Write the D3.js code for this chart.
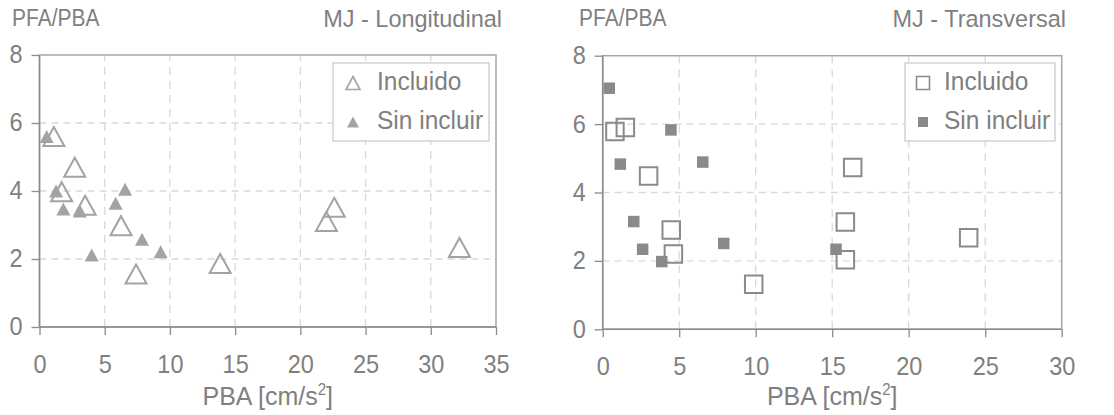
<!DOCTYPE html>
<html><head><meta charset="utf-8">
<script src="https://cdn.jsdelivr.net/npm/d3@7"></script>
<style>
html,body{margin:0;padding:0;background:#fff;}
text{font-family:"Liberation Sans",Arial,sans-serif;fill:#808080;}
</style></head>
<body>
<svg id="c" width="1114" height="415"></svg>
<script>
// ---- data ----
const longIncluidoX = [1.1, 2.7, 1.7, 3.5, 6.25, 7.4, 13.85, 22.6, 22.0, 32.2];
const longIncluidoY = [5.6, 4.7, 3.98, 3.58, 2.98, 1.56, 1.87, 3.52, 3.1, 2.34];
const longSinX = [0.55, 1.27, 1.83, 3.1, 5.84, 6.56, 7.86, 9.29, 4.0];
const longSinY = [5.6, 4.0, 3.47, 3.41, 3.64, 4.05, 2.58, 2.21, 2.12];

const transIncluidoX = [0.8, 1.48, 3.0, 16.34, 4.48, 4.62, 15.86, 15.86, 23.92, 9.87];
const transIncluidoY = [5.78, 5.9, 4.48, 4.73, 2.9, 2.2, 3.14, 2.03, 2.68, 1.32];
const transSinX = [0.43, 4.46, 1.15, 6.54, 2.03, 2.61, 3.86, 7.91, 15.25];
const transSinY = [7.05, 5.83, 4.83, 4.89, 3.15, 2.34, 1.98, 2.51, 2.34];

const yTicks = [0, 2, 4, 6, 8];
const xTicksLong = [0, 5, 10, 15, 20, 25, 30, 35];
const xTicksTrans = [0, 5, 10, 15, 20, 25, 30];
const seriesNames = ["Incluido", "Sin incluir"];
const yTitle = "PFA/PBA";
const titles = ["MJ - Longitudinal", "MJ - Transversal"];

const svg = d3.select("#c");

function tri(w, h){ return `M0,${-h/2}L${w/2},${h/2}L${-w/2},${h/2}Z`; }
function sq(s){ return `M${-s/2},${-s/2}h${s}v${s}h${-s}Z`; }
function stext(g, x, y, size, sy, anchor, str){
  return g.append("text").attr("transform", `translate(${x},${y}) scale(1,${sy})`)
    .attr("font-size", size).attr("text-anchor", anchor).text(str);
}

function panel(cfg){
  const g = svg.append("g");
  const x = d3.scaleLinear().domain([0, cfg.xmax]).range([cfg.x0, cfg.x1]);
  const y = d3.scaleLinear().domain([0, 8]).range([cfg.y0, cfg.y1]);
  // grid
  g.append("g").selectAll("line").data(cfg.xticks.filter(d=>d>0 && d<cfg.xmax)).join("line")
    .attr("x1", d=>x(d)).attr("x2", d=>x(d)).attr("y1", y(0)).attr("y2", y(8))
    .attr("stroke", "#d9d9d9").attr("stroke-width", 1.3).attr("stroke-dasharray", "8,6");
  g.append("g").selectAll("line").data(yTicks.filter(d=>d>0 && d<8)).join("line")
    .attr("x1", x(0)).attr("x2", x(cfg.xmax)).attr("y1", d=>y(d)).attr("y2", d=>y(d))
    .attr("stroke", "#d9d9d9").attr("stroke-width", 1.3).attr("stroke-dasharray", "7,5");
  // frame
  g.append("rect").attr("x", x(0)).attr("y", y(8)).attr("width", x(cfg.xmax)-x(0)).attr("height", y(0)-y(8))
    .attr("fill", "none").attr("stroke", "#a6a6a6").attr("stroke-width", 1.5);
  // axes
  const ax = g.append("g").attr("transform", `translate(0,${y(0)})`)
    .call(d3.axisBottom(x).tickValues(cfg.xticks).tickSize(8).tickPadding(18.5).tickFormat(d3.format("d")));
  const ay = g.append("g").attr("transform", `translate(${x(0)},0)`)
    .call(d3.axisLeft(y).tickValues(yTicks).tickSize(8).tickPadding(9).tickFormat(d3.format("d")));
  [ax, ay].forEach(a=>{
    a.select(".domain").attr("stroke", "#8c8c8c").attr("stroke-width", 1.5);
    a.selectAll(".tick line").attr("stroke", "#8c8c8c").attr("stroke-width", 1.3);
    a.selectAll(".tick text").attr("font-size", 23.5).attr("fill", "#808080")
      .attr("font-family", '"Liberation Sans",Arial,sans-serif')
      .attr("transform", "scale(1,1.06)");
  });
  ay.select(".domain").attr("d", `M0,${y(0)}V${y(8)}`);
  ax.select(".domain").attr("d", `M${x(0)},0H${x(cfg.xmax)}`);
  // titles
  stext(g, cfg.ytx, 26, 21, 1.12, "start", yTitle);
  stext(g, cfg.tx, 27, 23.5, 1.05, "end", cfg.title);
  const xt = g.append("text").attr("transform", `translate(${(x(0)+x(cfg.xmax))/2},405) scale(1,1.05)`)
    .attr("font-size", 25).attr("text-anchor", "middle");
  xt.append("tspan").text("PBA [cm/s");
  xt.append("tspan").attr("font-size", 15).attr("dy", -10).text("2");
  xt.append("tspan").attr("dy", 10).text("]");
  // points
  const openD = cfg.shape === "tri" ? tri(21, 19) : sq(17.5);
  const fillD = cfg.shape === "tri" ? tri(14, 13) : sq(11.5);
  const col = cfg.shape === "tri" ? "#a3a3a3" : "#8a8a8a";
  g.append("g").selectAll("path").data(d3.zip(cfg.sx, cfg.sy)).join("path")
    .attr("d", fillD).attr("transform", d=>`translate(${x(d[0])},${y(d[1])})`).attr("fill", col);
  g.append("g").selectAll("path").data(d3.zip(cfg.ix, cfg.iy)).join("path")
    .attr("d", openD).attr("transform", d=>`translate(${x(d[0])},${y(d[1])})`)
    .attr("fill", "none").attr("stroke", col).attr("stroke-width", 2);
  // legend
  const L = cfg.legend;
  g.append("rect").attr("x", L.x).attr("y", 63).attr("width", L.w).attr("height", 78)
    .attr("fill", "#fff").attr("stroke", "#c8c8c8").attr("stroke-width", 1.2);
  const lo = cfg.shape === "tri" ? tri(14, 13) : sq(13);
  const lf = cfg.shape === "tri" ? tri(12, 11) : sq(10);
  g.append("path").attr("d", lo).attr("transform", `translate(${L.sx},83)`).attr("fill", "none").attr("stroke", col).attr("stroke-width", 1.6);
  g.append("path").attr("d", lf).attr("transform", `translate(${L.sx},122)`).attr("fill", col);
  stext(g, L.tx, 90, 24.5, 1.08, "start", seriesNames[0]);
  stext(g, L.tx, 129, 24.5, 1.08, "start", seriesNames[1]);
}

panel({xmax: 35, x0: 39.5, x1: 496, y0: 327, y1: 55, xticks: xTicksLong, shape: "tri",
  ix: longIncluidoX, iy: longIncluidoY, sx: longSinX, sy: longSinY,
  title: titles[0], tx: 502, ytx: 12, legend: {x: 333, w: 156, sx: 353, tx: 377}});
panel({xmax: 30, x0: 602.7, x1: 1061.7, y0: 329.3, y1: 55.7, xticks: xTicksTrans, shape: "sq",
  ix: transIncluidoX, iy: transIncluidoY, sx: transSinX, sy: transSinY,
  title: titles[1], tx: 1066, ytx: 579, legend: {x: 905, w: 150, sx: 923, tx: 944}});
</script>
</body></html>
